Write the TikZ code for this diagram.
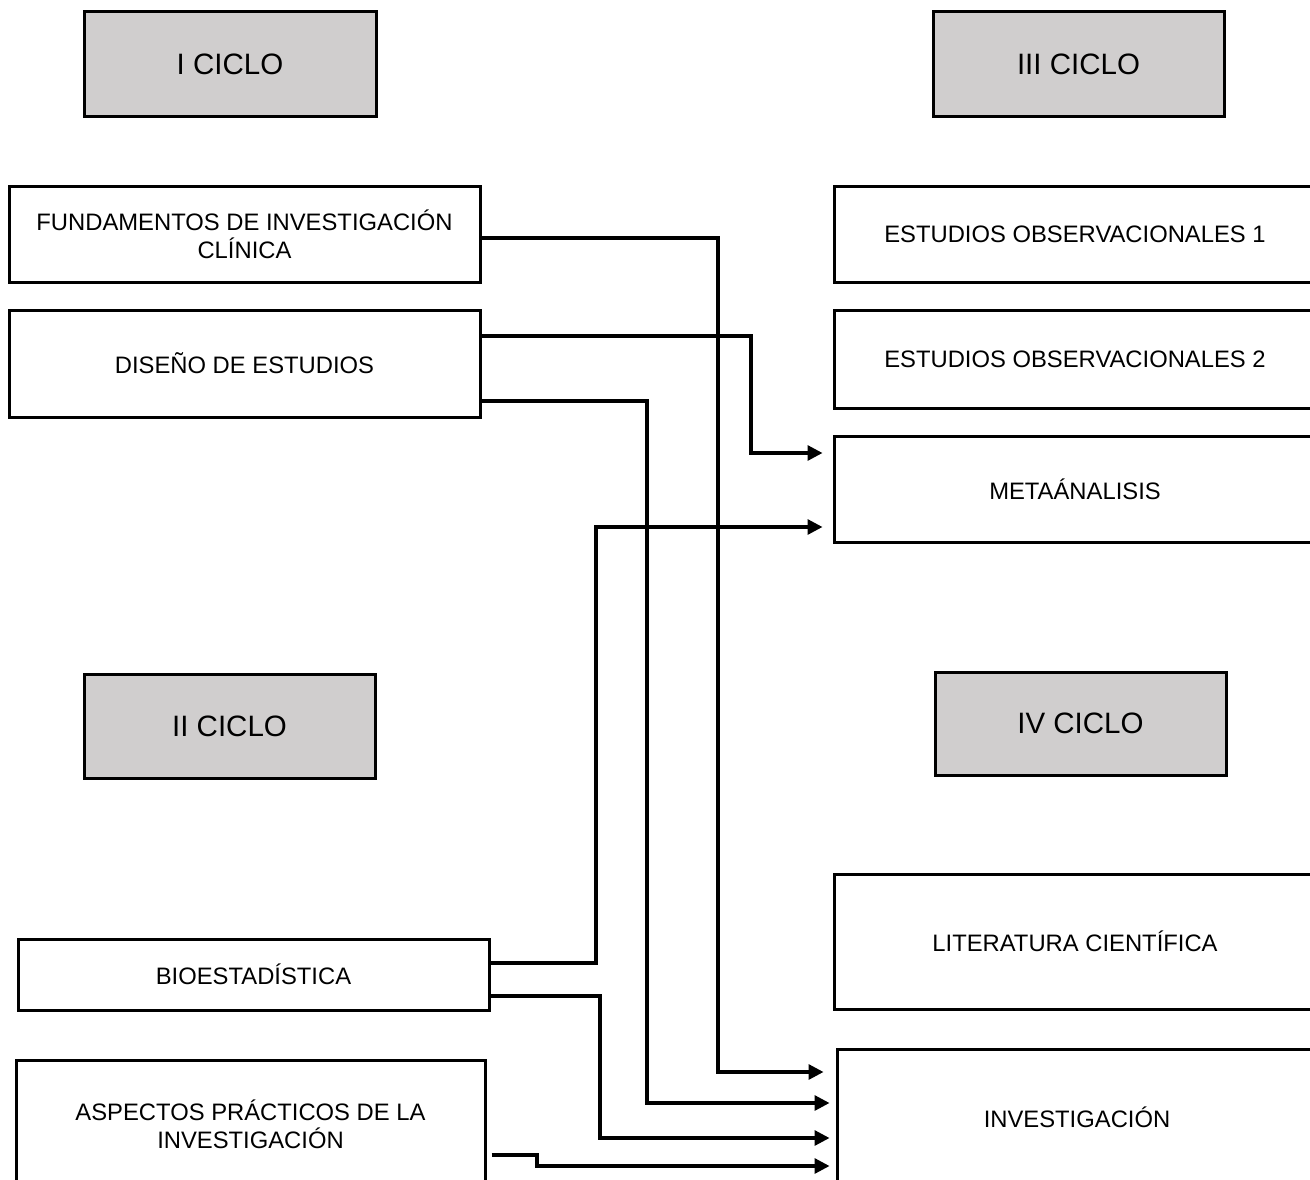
\documentclass[tikz,border=0pt]{standalone}
\usepackage{fontspec}
\setmainfont{Liberation Sans}
\usetikzlibrary{arrows.meta,calc}
\definecolor{cyclegray}{HTML}{D0CECE}
\begin{document}
\begin{tikzpicture}[x=1pt,y=-1pt,
  box/.style={draw,line width=3pt,rectangle,inner sep=0pt,align=center,font=\fontsize{23.8}{28}\selectfont},
  cyc/.style={box,fill=cyclegray,font=\fontsize{29.5}{36}\selectfont},
  conn/.style={line width=3.2pt,-{Triangle[length=15pt,width=15pt]}}
]
\useasboundingbox (0,0) rectangle (1310,1180);
\fill[white] (0,0) rectangle (1310,1180);
\clip (0,0) rectangle (1310,1180);

% cycle headers
\node[cyc,minimum width=292pt,minimum height=105pt] (c1) at (230,64.5) {I CICLO};
\node[cyc,minimum width=291pt,minimum height=105pt] (c3) at (1078.5,64.5) {III CICLO};
\node[cyc,minimum width=291pt,minimum height=104pt] (c2) at (229.5,726) {II CICLO};
\node[cyc,minimum width=291pt,minimum height=103pt] (c4) at (1080.5,723.5) {IV CICLO};

% left column
\node[box,minimum width=471pt,minimum height=95pt] (fund) at (244.5,234.5) {FUNDAMENTOS DE INVESTIGACIÓN\\CLÍNICA};
\node[box,minimum width=471pt,minimum height=107pt] (dis) at (244.5,363.5) {DISEÑO DE ESTUDIOS};
\node[box,minimum width=471pt,minimum height=71pt] (bio) at (253.5,974.5) {BIOESTADÍSTICA};
\node[box,minimum width=469pt,minimum height=128pt] (asp) at (250.5,1124) {ASPECTOS PRÁCTICOS DE LA\\INVESTIGACIÓN};

% right column
\node[box,minimum width=482pt,minimum height=95pt] (eo1) at (1075,234.5) {ESTUDIOS OBSERVACIONALES 1};
\node[box,minimum width=482pt,minimum height=98pt] (eo2) at (1075,359) {ESTUDIOS OBSERVACIONALES 2};
\node[box,minimum width=482pt,minimum height=106pt] (meta) at (1075,489) {METAÁNALISIS};
\node[box,minimum width=482pt,minimum height=135pt] (lit) at (1075,941.5) {LITERATURA CIENTÍFICA};
\node[box,minimum width=480pt,minimum height=136pt] (inv) at (1077,1117) {INVESTIGACIÓN};

% connectors
\draw[conn,shorten >=12pt] (fund.east |- 0,238) -| (718,1072) -- (inv.west |- 0,1072);
\draw[conn,shorten >=10pt] (dis.east |- 0,336) -| (751,453) -- (meta.west |- 0,453);
\draw[conn,shorten >=6pt] (dis.east |- 0,401) -| (647,1103) -- (inv.west |- 0,1103);
\draw[conn,shorten >=10pt] (bio.east |- 0,963) -| (596,527) -- (meta.west |- 0,527);
\draw[conn,shorten >=6pt] (bio.east |- 0,996) -| (600,1138) -- (inv.west |- 0,1138);
\draw[conn,shorten >=6pt] ($(asp.east |- 0,1155)+(5,0)$) -| (537,1166) -- (inv.west |- 0,1166);
\end{tikzpicture}
\end{document}
